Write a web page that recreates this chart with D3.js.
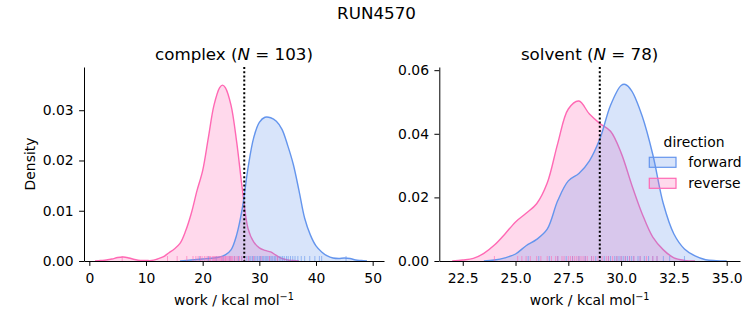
<!DOCTYPE html>
<html>
<head>
<meta charset='utf-8' />
<title>RUN4570</title>
<style>
  body { margin: 0; background: #fff; }
  svg text { font-family: 'DejaVu Sans', sans-serif; fill: #000; }
</style>
</head>
<body>
<div id="wrapper"></div>
<script src='https://d3js.org/d3.v7.min.js' charset='utf-8'></script>
<script>
  const runName = 'RUN4570'
  const directions = ['forward', 'reverse']
  const colors = { forward: '#6495ed', reverse: '#ff69b4' }

  // complex leg: KDE curves
  const complexFwdX = [16, 18, 20, 22, 23, 24, 25, 26, 27, 28, 29, 30, 31, 32, 33, 34, 35, 36, 37, 38, 39, 40, 41, 42, 43, 44, 45, 46, 47, 48, 49]
  const complexFwdY = [0, 0.0002, 0.0004, 0.0006, 0.0008, 0.0012, 0.0022, 0.0052, 0.0105, 0.0185, 0.0245, 0.0276, 0.0286, 0.0285, 0.0278, 0.0262, 0.0230, 0.0192, 0.0140, 0.0085, 0.0052, 0.0030, 0.0018, 0.0010, 0.0006, 0.0005, 0.0006, 0.0005, 0.0002, 0.0001, 0]
  const complexRevX = [1, 2, 3, 4, 5, 6, 7, 8, 9, 10, 11, 12, 13, 14, 15, 16, 17, 18, 19, 20, 21, 22, 23, 23.5, 24, 25, 26, 27, 28, 29, 30, 31, 32, 33, 34, 35, 36, 37]
  const complexRevY = [0, 0.0001, 0.0002, 0.0004, 0.0007, 0.0008, 0.0006, 0.0003, 0.0001, 0.0001, 0.0001, 0.0004, 0.0008, 0.0016, 0.0024, 0.0035, 0.0060, 0.0095, 0.0140, 0.0180, 0.0245, 0.0310, 0.0345, 0.0350, 0.0345, 0.0310, 0.0237, 0.0143, 0.0065, 0.0038, 0.0026, 0.0021, 0.0018, 0.0011, 0.0005, 0.0002, 0.0001, 0]

  // solvent leg
  const solventFwdX = [23.5, 24.0, 24.5, 25.0, 25.5, 26.0, 26.5, 27.0, 27.5, 28.0, 28.5, 29.0, 29.5, 30.0, 30.2, 30.5, 31.0, 31.5, 32.0, 32.5, 33.0, 33.5, 34.0, 34.5, 35.0]
  const solventFwdY = [0, 0.0003, 0.0010, 0.0022, 0.0048, 0.0068, 0.0100, 0.0190, 0.0252, 0.0275, 0.0315, 0.0385, 0.0490, 0.0552, 0.0555, 0.0535, 0.0455, 0.0335, 0.0180, 0.0085, 0.0038, 0.0016, 0.0004, 0.0001, 0]
  const solventRevX = [22.0, 22.5, 23.0, 23.5, 24.0, 24.5, 25.0, 25.5, 26.0, 26.5, 27.0, 27.5, 28.0, 28.5, 29.0, 29.5, 30.0, 30.5, 31.0, 31.5, 32.0, 32.5, 33.0, 33.5]
  const solventRevY = [0, 0.0003, 0.0008, 0.0024, 0.0050, 0.0085, 0.0123, 0.0150, 0.0180, 0.0245, 0.0370, 0.0478, 0.0503, 0.0462, 0.0432, 0.0408, 0.0340, 0.0240, 0.0148, 0.0075, 0.0035, 0.0010, 0.0002, 0]

  // rug samples (approximate positions of the individual works)
  const complexFwdRug = [19.5, 21.0, 22.4, 23.6, 24.8, 25.6, 26.3, 26.9, 27.4, 27.8, 28.2, 28.5, 28.8, 29.1, 29.4, 29.7, 30.0, 30.2, 30.5, 30.7, 31.0, 31.2, 31.4, 31.7, 31.9, 32.2, 32.4, 32.7, 32.9, 33.2, 33.5, 33.8, 34.1, 34.4, 34.8, 35.1, 35.5, 35.9, 36.3, 36.8, 37.4, 38.0, 38.9, 39.8, 40.6, 41.0, 45.3]
  const complexRevRug = [5.8, 13.8, 15.5, 17.2, 18.3, 18.8, 19.2, 19.6, 19.9, 20.3, 20.6, 20.9, 21.2, 21.4, 21.7, 21.9, 22.1, 22.3, 22.5, 22.7, 22.9, 23.1, 23.3, 23.4, 23.6, 23.8, 24.0, 24.1, 24.3, 24.5, 24.7, 24.9, 25.1, 25.3, 25.6, 25.9, 26.2, 26.5, 26.9, 27.4, 28.1, 29.0, 30.3, 31.8, 33.2]
  const solventFwdRug = [25.6, 26.1, 26.6, 27.0, 27.4, 27.7, 28.0, 28.3, 28.6, 28.8, 29.0, 29.2, 29.4, 29.5, 29.7, 29.8, 29.9, 30.0, 30.1, 30.2, 30.3, 30.4, 30.5, 30.6, 30.8, 30.9, 31.1, 31.3, 31.5, 31.7, 32.0, 32.3, 33.0]
  const solventRevRug = [24.0, 25.1, 25.3, 25.5, 25.7, 26.0, 26.2, 26.5, 26.7, 26.9, 27.0, 27.2, 27.3, 27.5, 27.6, 27.7, 27.8, 27.9, 28.0, 28.1, 28.2, 28.3, 28.4, 28.6, 28.7, 28.9, 29.1, 29.3, 29.4, 29.6, 29.8, 30.0, 30.2, 30.4, 30.6, 30.9, 31.2, 31.5, 31.7]

  const complexXTicks = [0, 10, 20, 30, 40, 50]
  const complexYTicks = [0, 0.01, 0.02, 0.03]
  const solventXTicks = [22.5, 25.0, 27.5, 30.0, 32.5, 35.0]
  const solventYTicks = [0, 0.02, 0.04, 0.06]

  const complexMean = 27.34
  const solventMean = 28.99

  const panels = [
    {
      name: 'complex', n: 103, left: 84, right: 384, xDomain: [-0.94, 52], yDomain: [0, 0.0386],
      xTicks: complexXTicks, yTicks: complexYTicks, xFmt: d3.format('d'), yFmt: d3.format('.2f'),
      curves: { forward: d3.zip(complexFwdX, complexFwdY), reverse: d3.zip(complexRevX, complexRevY) },
      rugs: { forward: complexFwdRug, reverse: complexRevRug },
      mean: complexMean, ylabel: true
    },
    {
      name: 'solvent', n: 78, left: 439.3, right: 740, xDomain: [21.39, 35.63], yDomain: [0, 0.061],
      xTicks: solventXTicks, yTicks: solventYTicks, xFmt: d3.format('.1f'), yFmt: d3.format('.2f'),
      curves: { forward: d3.zip(solventFwdX, solventFwdY), reverse: d3.zip(solventRevX, solventRevY) },
      rugs: { forward: solventFwdRug, reverse: solventRevRug },
      mean: solventMean, ylabel: false
    }
  ]

  const plotTop = 67, plotBottom = 261
  const fs = 13.9

  const svg = d3.select('#wrapper')
    .append('svg')
      .attr('width', 753)
      .attr('height', 325)

  svg.append('text')
    .attr('x', 376.5).attr('y', 19)
    .attr('text-anchor', 'middle')
    .attr('font-size', 16.7)
    .text(runName)

  panels.forEach(p => {
    const x = d3.scaleLinear().domain(p.xDomain).range([p.left, p.right])
    const y = d3.scaleLinear().domain(p.yDomain).range([plotBottom, plotTop])
    const g = svg.append('g')

    const curve = d3.curveCatmullRom.alpha(0.5)
    const area = d3.area()
      .x(d => x(d[0])).y0(y(0)).y1(d => Math.min(y(0), y(d[1])))
      .curve(curve)
    const line = d3.line()
      .x(d => x(d[0])).y(d => y(d[1]))
      .curve(curve)

    // reverse drawn first, forward on top
    ;['reverse', 'forward'].forEach(dir => {
      g.append('path')
        .attr('d', area(p.curves[dir]))
        .attr('fill', colors[dir])
        .attr('fill-opacity', 0.25)
      g.append('path')
        .attr('d', line(p.curves[dir]))
        .attr('fill', 'none')
        .attr('stroke', colors[dir])
        .attr('stroke-width', 1.4)
    })

    directions.forEach(dir => {
      g.selectAll(null)
        .data(p.rugs[dir])
        .enter()
        .append('line')
          .attr('x1', d => x(d)).attr('x2', d => x(d))
          .attr('y1', plotBottom - 5).attr('y2', plotBottom)
          .attr('stroke', colors[dir])
          .attr('stroke-width', 1)
          .attr('stroke-opacity', 0.6)
    })

    g.append('line')
      .attr('x1', x(p.mean)).attr('x2', x(p.mean))
      .attr('y1', plotTop).attr('y2', plotBottom)
      .attr('stroke', '#000')
      .attr('stroke-width', 2)
      .attr('stroke-dasharray', '2,2.2')

    const xAxis = g.append('g')
      .attr('transform', `translate(0,${plotBottom})`)
      .call(d3.axisBottom(x).tickValues(p.xTicks).tickFormat(p.xFmt)
        .tickSize(4.9).tickPadding(7.2).tickSizeOuter(0))
    const yAxis = g.append('g')
      .attr('transform', `translate(${p.left},0)`)
      .call(d3.axisLeft(y).tickValues(p.yTicks).tickFormat(p.yFmt)
        .tickSize(4.9).tickPadding(5.4).tickSizeOuter(0))
    ;[xAxis, yAxis].forEach(a => {
      a.attr('font-family', null).attr('font-size', fs)
      a.selectAll('path, line').attr('stroke', '#000').attr('stroke-width', 1)
    })

    const xl = g.append('text')
      .attr('x', (p.left + p.right) / 2).attr('y', 305)
      .attr('text-anchor', 'middle')
      .attr('font-size', fs)
    xl.append('tspan').text('work / kcal mol')
    xl.append('tspan').attr('dy', -5.5).attr('font-size', 9.7).text('\u22121')

    if (p.ylabel) {
      g.append('text')
        .attr('transform', `translate(35,${(plotTop + plotBottom) / 2}) rotate(-90)`)
        .attr('text-anchor', 'middle')
        .attr('font-size', fs)
        .text('Density')
    }

    const t = g.append('text')
      .attr('x', (p.left + p.right) / 2).attr('y', 59.5)
      .attr('text-anchor', 'middle')
      .attr('font-size', 16.7)
    t.append('tspan').text(p.name + ' (')
    t.append('tspan').attr('font-style', 'italic').text('N')
    t.append('tspan').text(' = ' + p.n + ')')
  })

  // legend
  const legend = svg.append('g')
  legend.append('text')
    .attr('x', 694).attr('y', 147)
    .attr('text-anchor', 'middle')
    .attr('font-size', fs)
    .text('direction')
  directions.forEach((dir, i) => {
    const yy = 157.3 + i * 21
    legend.append('rect')
      .attr('x', 649.3).attr('y', yy)
      .attr('width', 26.7).attr('height', 10)
      .attr('fill', colors[dir]).attr('fill-opacity', 0.25)
      .attr('stroke', colors[dir]).attr('stroke-width', 1.2)
    legend.append('text')
      .attr('x', 688.3).attr('y', yy + 10)
      .attr('font-size', fs)
      .text(dir)
  })
</script>
</body>
</html>
